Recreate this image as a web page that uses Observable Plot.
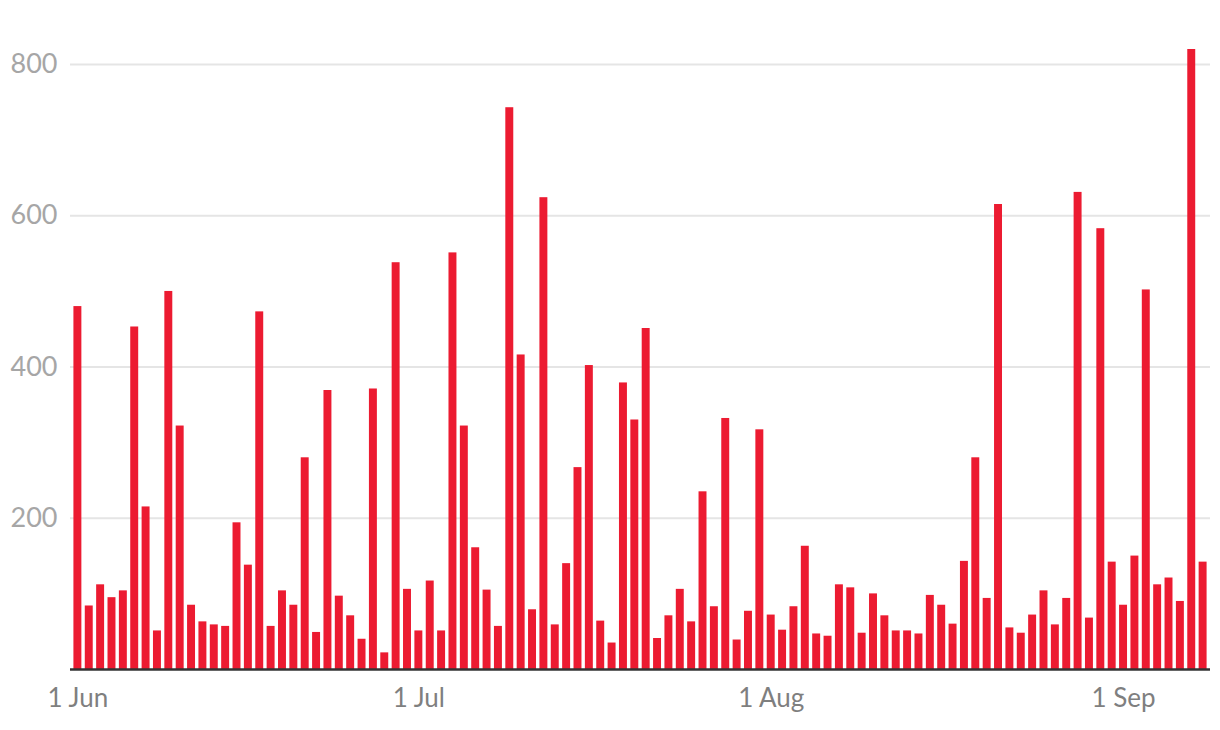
<!DOCTYPE html>
<html>
<head>
<meta charset="utf-8">
<script src="https://cdn.jsdelivr.net/npm/d3@7"></script>
<script src="https://cdn.jsdelivr.net/npm/@observablehq/plot@0.6"></script>
<style>
  html, body { margin: 0; padding: 0; background: #fff; }
  #chart { width: 1220px; height: 730px; }
</style>
</head>
<body>
<div id="chart"></div>
<script>
// Daily values, 1 Jun to 8 Sep
const startDate = "2020-06-01";
const values = [
  // June
  480, 84, 112, 95, 104, 453, 215, 51, 500, 322,
  85, 63, 59, 57, 194, 138, 473, 57, 104, 85,
  280, 49, 369, 97, 71, 40, 371, 22, 538, 106,
  // July
  51, 117, 51, 551, 322, 161, 105, 57, 743, 416,
  79, 624, 59, 140, 267, 402, 64, 35, 379, 330,
  451, 41, 71, 106, 63, 235, 83, 332, 39, 77, 317,
  // August
  72, 52, 83, 163, 47, 44, 112, 108, 48, 100,
  71, 51, 51, 47, 98, 85, 60, 143, 280, 94,
  615, 55, 48, 72, 104, 59, 94, 631, 68, 583, 142,
  // September
  85, 150, 502, 112, 121, 90, 820, 142
];
const tickDates = ["2020-06-01", "2020-07-01", "2020-08-01", "2020-09-01"];
const tickLabels = ["1 Jun", "1 Jul", "1 Aug", "1 Sep"];
const yTicks = [200, 400, 600, 800];

const start = new Date(startDate + "T00:00:00Z");
const data = values.map((v, i) => ({
  day: d3.utcFormat("%Y-%m-%d")(d3.utcDay.offset(start, i)),
  value: v
}));
const labelOf = new Map(tickDates.map((d, i) => [d, tickLabels[i]]));

const chart = Plot.plot({
  width: 1220,
  height: 730,
  marginLeft: 70,
  marginRight: 10,
  marginTop: 49,
  marginBottom: 61,
  style: { fontFamily: "Lato, 'Open Sans', sans-serif", fontSize: "26px", background: "#fff" },
  x: { type: "band", domain: data.map(d => d.day), padding: 0.3, align: 0.5 },
  y: { domain: [0, d3.max(values)] },
  marks: [
    Plot.gridY(yTicks, { stroke: "#e5e5e5", strokeOpacity: 1, strokeWidth: 2 }),
    Plot.barY(data, { x: "day", y: "value", fill: "#ec1b31" }),
    Plot.ruleY([0], { stroke: "#333", strokeWidth: 2.5 }),
    Plot.axisY(yTicks, { tickSize: 0, tickPadding: 13, fill: "#a6a6a6", label: null, fontSize: 27 }),
    Plot.axisX(tickDates, { tickSize: 0, tickPadding: 19, fill: "#7f7f7f", label: null, fontSize: 26,
      tickFormat: d => labelOf.get(d) })
  ]
});
document.getElementById("chart").appendChild(chart);
</script>
</body>
</html>
